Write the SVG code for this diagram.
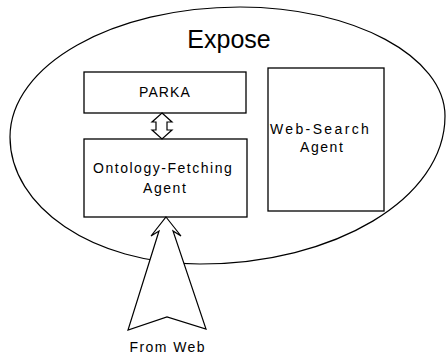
<svg xmlns="http://www.w3.org/2000/svg" width="446" height="355" viewBox="0 0 446 355">
<style>
.ln{fill:none;stroke:#000;stroke-width:1.2}
.box{fill:#fff;stroke:#000;stroke-width:1.3}
.arr{fill:#fff;stroke:#000;stroke-width:1.2;stroke-linejoin:miter}
text{font-family:"Liberation Sans",Arial,sans-serif;fill:#000;text-anchor:middle}
.t{font-size:14px;letter-spacing:1.2px}
</style>
<rect width="446" height="355" fill="#fff"/>
<g id="expose">
<path class="ln" d="M10,137 C10,65 113,7 240,7 C354,7 445,57 445,116 C445,199 334,264 200,264 C93,264 10,207 10,137 Z"/>
<text x="229" y="48" style="font-size:25px">Expose</text>
</g>
<g id="parka">
<rect class="box" x="84" y="72" width="162" height="41"/>
<text class="t" x="165" y="97" textLength="52" lengthAdjust="spacing">PARKA</text>
</g>
<g id="ontology">
<rect class="box" x="84" y="139" width="163" height="78"/>
<text class="t" x="163" y="173" textLength="140" lengthAdjust="spacing">Ontology-Fetching</text>
<text class="t" x="165" y="193" textLength="44" lengthAdjust="spacing">Agent</text>
</g>
<g id="websearch">
<rect class="box" x="268" y="68" width="116" height="143"/>
<text class="t" x="320" y="134" textLength="100" lengthAdjust="spacing">Web-Search</text>
<text class="t" x="322" y="152" textLength="44" lengthAdjust="spacing">Agent</text>
</g>
<g id="connectors">
<polygon class="arr" points="162,113 172,122 167,122 167,130 172,130 162,139 152,130 156,130 156,122 152,122"/>
<polygon class="arr" points="166,217 181,236 173,231 206,329 167,317 128,330 159,231 151,236"/>
</g>
<text id="fromweb" x="167" y="352" style="font-size:14px" textLength="75" lengthAdjust="spacing">From Web</text>
</svg>
